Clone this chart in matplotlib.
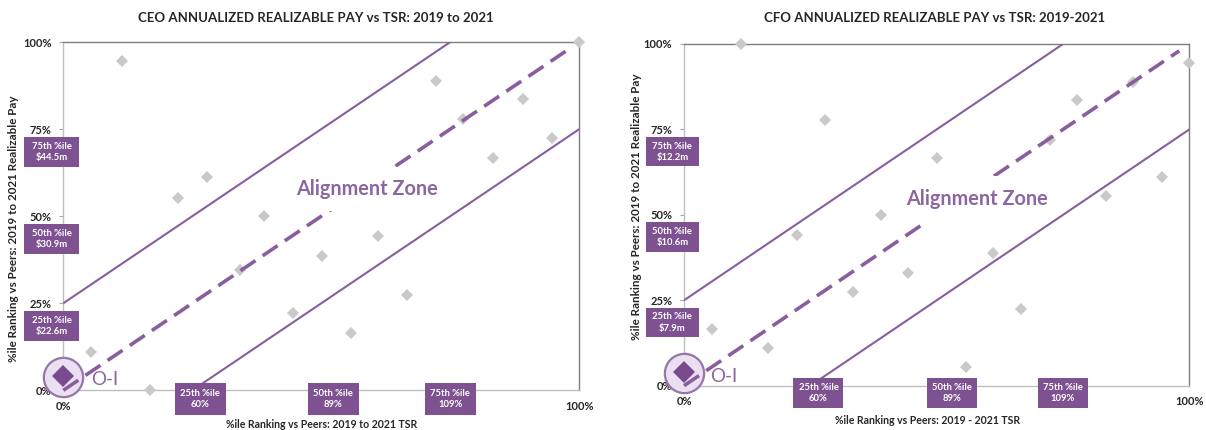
import matplotlib
matplotlib.use('Agg')
import matplotlib.pyplot as plt
from matplotlib.patches import Rectangle
from matplotlib.ticker import FixedLocator, FuncFormatter

plt.rcParams['font.family'] = ['Lato', 'DejaVu Sans']

# ---------------- data ----------------
ceo_tsr = [0.054, 0.113, 0.168, 0.223, 0.279, 0.342, 0.389, 0.446, 0.501,
           0.557, 0.610, 0.666, 0.722, 0.775, 0.833, 0.890, 0.947, 1.000]
ceo_pay = [0.109, 0.946, 0.000, 0.551, 0.613, 0.345, 0.501, 0.221, 0.386,
           0.165, 0.444, 0.274, 0.889, 0.778, 0.668, 0.836, 0.724, 1.000]
ceo_oi = (0.0, 0.04)

cfo_tsr = [0.055, 0.112, 0.167, 0.223, 0.278, 0.334, 0.389, 0.444, 0.501,
           0.557, 0.612, 0.666, 0.724, 0.778, 0.835, 0.889, 0.945, 1.000]
cfo_pay = [0.166, 1.000, 0.109, 0.441, 0.779, 0.275, 0.500, 0.331, 0.666,
           0.054, 0.389, 0.224, 0.719, 0.836, 0.555, 0.889, 0.612, 0.945]
cfo_oi = (0.0, 0.04)

y_ticks = [0.0, 0.25, 0.50, 0.75, 1.0]
x_ticks = [0.0, 1.0]

pay_box_pos = [0.25, 0.50, 0.75]
ceo_pay_labels = ['25th %ile\n$22.6m', '50th %ile\n$30.9m', '75th %ile\n$44.5m']
cfo_pay_labels = ['25th %ile\n$7.9m', '50th %ile\n$10.6m', '75th %ile\n$12.2m']

tsr_box_labels = ['25th %ile\n60%', '50th %ile\n89%', '75th %ile\n109%']
ceo_tsr_box_pos = [0.265, 0.523, 0.750]
cfo_tsr_box_pos = [0.266, 0.531, 0.749]

upper_band = ([0.0, 0.75], [0.25, 1.0])
lower_band = ([0.25, 1.0], [0.0, 0.75])
diagonal = ([0.0, 0.98], [0.0, 0.98])

titles = ['CEO ANNUALIZED REALIZABLE PAY vs TSR: 2019 to 2021',
          'CFO ANNUALIZED REALIZABLE PAY vs TSR: 2019-2021']
xlabels = ['%ile Ranking vs Peers: 2019 to 2021 TSR',
           '%ile Ranking vs Peers: 2019 - 2021 TSR']
ylabel = '%ile Ranking vs Peers: 2019 to 2021 Realizable Pay'

# ---------------- style ----------------
PURPLE = '#8A5E9E'
BOX = '#7E5191'
GRAY_PT = '#C9C9C9'
OI_DARK = '#7A4A8E'
OI_FILL = '#EAE0F1'
TXT = '#262626'

fig = plt.figure(figsize=(12.06, 4.30), dpi=100)
axes = [fig.add_axes([0.0525, 0.0923, 0.4279, 0.810]),
        fig.add_axes([0.5672, 0.1030, 0.4190, 0.7947])]

datasets = [(ceo_tsr, ceo_pay, ceo_oi, ceo_pay_labels, ceo_tsr_box_pos, (0.589, 0.577), -0.025, 0.127),
            (cfo_tsr, cfo_pay, cfo_oi, cfo_pay_labels, cfo_tsr_box_pos, (0.579, 0.546), -0.021, 0.138)]

for i, (ax, (tx, py, oi, pay_labels, tsr_pos, az, xbox_cy, az_h)) in enumerate(zip(axes, datasets)):
    ax.set_xlim(0, 1)
    ax.set_ylim(0, 1)
    for s in ['left', 'bottom']:
        ax.spines[s].set_color('#BFBFBF')
    for s in ['top', 'right']:
        ax.spines[s].set_color('#7F7F7F')
    for s in ax.spines.values():
        s.set_linewidth(1.0)

    ax.yaxis.set_major_locator(FixedLocator(y_ticks))
    ax.xaxis.set_major_locator(FixedLocator(x_ticks))
    fmt = FuncFormatter(lambda v, p: f'{v*100:.0f}%')
    ax.xaxis.set_major_formatter(fmt)
    ax.yaxis.set_major_formatter(fmt)
    ax.tick_params(axis='y', length=3, width=0.8, color='#A6A6A6', pad=5.5,
                   labelsize=8, labelcolor=TXT)
    ax.tick_params(axis='x', length=0, pad=7.5, labelsize=8, labelcolor=TXT)
    for lab in ax.get_xticklabels() + ax.get_yticklabels():
        lab.set_fontweight('bold')

    # band lines
    ax.plot(*upper_band, color=PURPLE, lw=1.5, zorder=3, solid_capstyle='butt')
    ax.plot(*lower_band, color=PURPLE, lw=1.5, zorder=3, solid_capstyle='butt')
    ax.plot(*diagonal, color=PURPLE, lw=2.6, dashes=[5.0, 2.4], zorder=5,
            dash_capstyle='butt', clip_on=False)

    # peers
    ax.plot(tx, py, linestyle='none', marker='D', ms=6.3, mew=0,
            color=GRAY_PT, zorder=4, clip_on=False)

    # O-I
    ax.scatter([oi[0]], [oi[1] - 0.002], s=800, marker='o', facecolor=OI_FILL,
               edgecolor='#9575AA', linewidths=1.6, zorder=4, clip_on=False)
    ax.plot([oi[0]], [oi[1]], marker='D', ms=11, mew=0, color=OI_DARK,
            zorder=4.5, clip_on=False)
    ax.text(0.081 if i == 0 else 0.079, 0.030 if i == 0 else 0.026, 'O-I',
            fontsize=13.5, color='#8B68A0', ha='center', va='center', zorder=6,
            clip_on=False)

    # Alignment zone label on a white panel that interrupts the diagonal
    az_w = 0.28
    ax.add_patch(Rectangle((az[0] - az_w / 2, az[1] - az_h / 2), az_w, az_h,
                           transform=ax.transAxes, facecolor='white',
                           edgecolor='none', zorder=5.5))
    ax.text(az[0], az[1], 'Alignment Zone', fontsize=14.3, fontweight='bold',
            color='#8B66A0', ha='center', va='center', zorder=6)

    # pay percentile boxes on y axis
    for yv, lab in zip(pay_box_pos, pay_labels):
        cx, cy, w, h = -0.023, yv - 0.065, 0.106, 0.086
        ax.add_patch(Rectangle((cx - w / 2, cy - h / 2), w, h, transform=ax.transAxes,
                               facecolor=BOX, edgecolor='none', clip_on=False, zorder=7))
        ax.text(cx, cy, lab, transform=ax.transAxes, ha='center', va='center',
                fontsize=6.8, fontweight='bold', color='white', linespacing=1.3,
                zorder=8, clip_on=False)

    # TSR percentile boxes on x axis
    for xv, lab in zip(tsr_pos, tsr_box_labels):
        w, h = 0.099, 0.090
        ax.add_patch(Rectangle((xv - w / 2, xbox_cy - h / 2), w, h, transform=ax.transAxes,
                               facecolor=BOX, edgecolor='none', clip_on=False, zorder=7))
        ax.text(xv, xbox_cy, lab, transform=ax.transAxes, ha='center', va='center',
                fontsize=6.8, fontweight='bold', color='white', linespacing=1.3,
                zorder=8, clip_on=False)

# titles and axis labels
fig.text(316 / 1206, 1 - 18 / 430, titles[0], ha='center', va='center',
         fontsize=9.5, fontweight='bold', color=TXT)
fig.text(935 / 1206, 1 - 18 / 430, titles[1], ha='center', va='center',
         fontsize=9.5, fontweight='bold', color=TXT)
fig.text(322 / 1206, 1 - 425 / 430, xlabels[0], ha='center', va='center',
         fontsize=7.6, fontweight='bold', color=TXT)
fig.text(928 / 1206, 1 - 421 / 430, xlabels[1], ha='center', va='center',
         fontsize=7.6, fontweight='bold', color=TXT)
fig.text(14 / 1206, 1 - 229 / 430, ylabel, ha='center', va='center', rotation=90,
         fontsize=8.4, fontweight='bold', color=TXT)
fig.text(636 / 1206, 1 - 207 / 430, ylabel, ha='center', va='center', rotation=90,
         fontsize=8.4, fontweight='bold', color=TXT)

fig.savefig('out.png', dpi=100)
